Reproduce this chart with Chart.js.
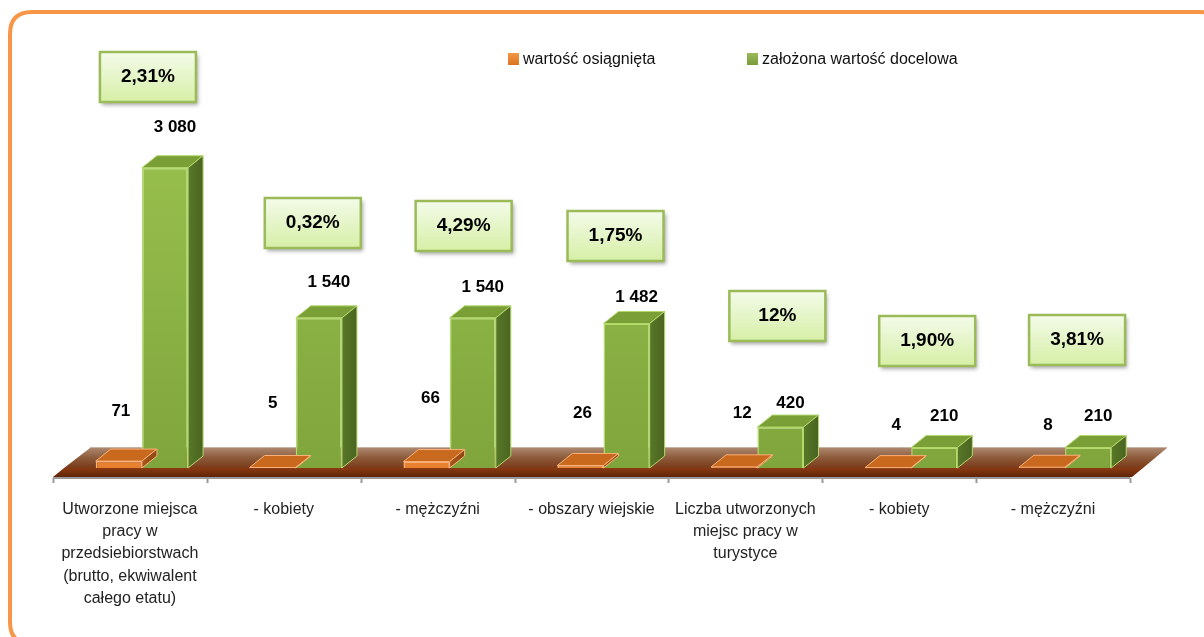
<!DOCTYPE html>
<html>
<head>
<meta charset="utf-8">
<script src="https://cdn.jsdelivr.net/npm/chart.js@4.4.1/dist/chart.umd.min.js"></script>
<style>
  html, body { margin: 0; padding: 0; background: #fff; }
  canvas { display: block; }
</style>
</head>
<body>
<canvas id="wykres" width="1204" height="637"></canvas>
<script>
// Dane wykresu
const kategorie = [
    ["Utworzone miejsca", "pracy w", "przedsiebiorstwach", "(brutto, ekwiwalent", "całego etatu)"],
    "- kobiety",
    "- mężczyźni",
    "- obszary wiejskie",
    ["Liczba utworzonych", "miejsc pracy w", "turystyce"],
    "- kobiety",
    "- mężczyźni"
];
const wartoscOsiagnieta = [71, 5, 66, 26, 12, 4, 8];
const wartoscDocelowa = [3080, 1540, 1540, 1482, 420, 210, 210];
const procenty = ["2,31%", "0,32%", "4,29%", "1,75%", "12%", "1,90%", "3,81%"];

// Rozmieszczenie etykiet (px)
const ramkaDx = [18, 29, 26, 24, 32, 28, 24];
const ramkaY = [77, 223, 226, 236, 316, 341, 340];
const zielonaDy = [-40, -36, -31, -26, -24, -31, -31];
const pomaranczowaY = [-57, -65, -70, -55, -55, -43, -43];
const pomaranczowaDx = [2, 0, 4, 2, 8, 8, 6];

const PRZESUNIECIE = 12;   // przesunięcie słupków 3D w prawo
const GL_X = 15, GL_Y = -12; // głębokość słupka

function formatLiczby(n) {
    return n.toString().replace(/\B(?=(\d{3})+(?!\d))/g, " ");
}

function wielokat(ctx, pts, fill, stroke) {
    ctx.beginPath();
    ctx.moveTo(pts[0][0], pts[0][1]);
    for (let i = 1; i < pts.length; i++) ctx.lineTo(pts[i][0], pts[i][1]);
    ctx.closePath();
    ctx.fillStyle = fill;
    ctx.fill();
    if (stroke) {
        ctx.strokeStyle = stroke;
        ctx.lineWidth = 1;
        ctx.stroke();
    }
}

function zaokraglonyProstokat(ctx, x, y, w, h, r) {
    ctx.beginPath();
    ctx.moveTo(x + r, y);
    ctx.lineTo(x + w - r, y);
    ctx.quadraticCurveTo(x + w, y, x + w, y + r);
    ctx.lineTo(x + w, y + h - r);
    ctx.quadraticCurveTo(x + w, y + h, x + w - r, y + h);
    ctx.lineTo(x + r, y + h);
    ctx.quadraticCurveTo(x, y + h, x, y + h - r);
    ctx.lineTo(x, y + r);
    ctx.quadraticCurveTo(x, y, x + r, y);
    ctx.closePath();
}

const kolory = [
    { top: "#c8691e", side: "#a9561a", edge: "#fbb27a" },
    { top: "#7b9f37", side: "#587828", edge: "#b3d86a" }
];

const wykres3D = {
    id: "wykres3D",
    beforeDraw(chart) {
        const ctx = chart.ctx;
        ctx.save();
        ctx.fillStyle = "#fff";
        ctx.fillRect(0, 0, chart.width, chart.height);
        // ramka
        ctx.strokeStyle = "#f79646";
        ctx.lineWidth = 4;
        zaokraglonyProstokat(ctx, 10, 12, 1212, 632, 22);
        ctx.stroke();
        ctx.restore();
    },
    beforeDatasetsDraw(chart) {
        const ctx = chart.ctx;
        const a = chart.chartArea;
        const y0 = a.bottom;
        // podłoga
        ctx.save();
        let g = ctx.createLinearGradient(0, y0 - 20, 0, y0);
        g.addColorStop(0, "#ab866d");
        g.addColorStop(0.5, "#8c5a3a");
        g.addColorStop(1, "#7a3a18");
        wielokat(ctx, [[a.left + 11, y0], [a.right + 13, y0], [a.right + 37, y0 - 20], [a.left + 37, y0 - 20]], g);
        ctx.strokeStyle = "#c8b2a2";
        ctx.lineWidth = 1;
        ctx.beginPath();
        ctx.moveTo(a.left + 37, y0 - 20.5);
        ctx.lineTo(a.right + 37, y0 - 20.5);
        ctx.stroke();
        let g2 = ctx.createLinearGradient(0, y0, 0, y0 + 9);
        g2.addColorStop(0, "#8b3a12");
        g2.addColorStop(1, "#5e2408");
        wielokat(ctx, [[a.left, y0 + 9], [a.right + 2, y0 + 9], [a.right + 13, y0], [a.left + 11, y0]], g2);
        // oś
        ctx.strokeStyle = "#9a9a9a";
        ctx.lineWidth = 2;
        ctx.beginPath();
        ctx.moveTo(a.left, y0 + 10);
        ctx.lineTo(a.right, y0 + 10);
        ctx.stroke();
        const szer = (a.right - a.left) / kategorie.length;
        for (let i = 0; i <= kategorie.length; i++) {
            const x = Math.round(a.left + i * szer) + 0.5;
            ctx.beginPath();
            ctx.moveTo(x, y0 + 10);
            ctx.lineTo(x, y0 + 15);
            ctx.stroke();
        }
        ctx.restore();
        ctx.save();
        ctx.translate(PRZESUNIECIE, 0);
    },
    afterDatasetDraw(chart, args) {
        const ctx = chart.ctx;
        const k = kolory[args.index];
        const meta = chart.getDatasetMeta(args.index);
        meta.data.forEach(bar => {
            const p = bar.getProps(["x", "y", "base", "width"], true);
            const l = p.x - p.width / 2, r = p.x + p.width / 2;
            const t = p.y, b = p.base;
            // góra
            wielokat(ctx, [[l, t], [l + GL_X, t + GL_Y], [r + GL_X, t + GL_Y], [r, t]], k.top, k.edge);
            // bok
            let gs = ctx.createLinearGradient(r, 0, r + GL_X, 0);
            gs.addColorStop(0, k.side);
            gs.addColorStop(1, args.index === 1 ? "#4a6420" : "#8f4712");
            wielokat(ctx, [[r, t], [r + GL_X, t + GL_Y], [r + GL_X, b + GL_Y], [r, b]], gs, k.edge);
        });
    },
    afterDatasetsDraw(chart) {
        const ctx = chart.ctx;
        ctx.restore();
        const xs = chart.scales.x;
        const m0 = chart.getDatasetMeta(0);
        const m1 = chart.getDatasetMeta(1);
        const y0 = chart.chartArea.bottom;
        ctx.save();
        ctx.fillStyle = "#000";
        ctx.textAlign = "center";
        ctx.textBaseline = "middle";
        ctx.font = "bold 17px 'Liberation Sans', Arial, sans-serif";
        m1.data.forEach((bar, i) => {
            ctx.fillText(formatLiczby(wartoscDocelowa[i]), bar.x + PRZESUNIECIE + 10, bar.y + zielonaDy[i]);
        });
        m0.data.forEach((bar, i) => {
            ctx.fillText(formatLiczby(wartoscOsiagnieta[i]), bar.x + PRZESUNIECIE + pomaranczowaDx[i], y0 + pomaranczowaY[i]);
        });
        // ramki z procentami
        procenty.forEach((txt, i) => {
            const cx = xs.getPixelForValue(i) + ramkaDx[i];
            const cy = ramkaY[i];
            const w = 96, h = 50;
            const x = cx - w / 2, y = cy - h / 2;
            ctx.save();
            ctx.shadowColor = "rgba(0,0,0,0.35)";
            ctx.shadowBlur = 4;
            ctx.shadowOffsetX = 2;
            ctx.shadowOffsetY = 3;
            let g = ctx.createLinearGradient(0, y, 0, y + h);
            g.addColorStop(0, "#f4fbea");
            g.addColorStop(1, "#d6efa6");
            ctx.fillStyle = g;
            ctx.fillRect(x, y, w, h);
            ctx.restore();
            ctx.strokeStyle = "#9bbb59";
            ctx.lineWidth = 2.5;
            ctx.strokeRect(x, y, w, h);
            ctx.fillStyle = "#000";
            ctx.font = "bold 19px 'Liberation Sans', Arial, sans-serif";
            ctx.fillText(txt, cx, cy);
        });
        // legenda
        ctx.font = "16px 'Liberation Sans', Arial, sans-serif";
        ctx.textAlign = "left";
        const legenda = [[508, "#f79646", "#d9731f"], [747, "#9bbb59", "#7a9b3a"]];
        chart.data.datasets.forEach((ds, i) => {
            const lx = legenda[i][0];
            let g = ctx.createLinearGradient(0, 53, 0, 65);
            g.addColorStop(0, legenda[i][1]);
            g.addColorStop(1, legenda[i][2]);
            ctx.fillStyle = g;
            ctx.fillRect(lx, 53, 11, 12);
            ctx.fillStyle = "#111";
            ctx.fillText(ds.label, lx + 15, 60);
        });
        ctx.restore();
    }
};

const ctx = document.getElementById("wykres").getContext("2d");
new Chart(ctx, {
    type: "bar",
    data: {
        labels: kategorie,
        datasets: [{
            label: "wartość osiągnięta",
            data: wartoscOsiagnieta,
            backgroundColor: "#e7802f",
            borderColor: "#fbb27a",
            borderWidth: 1.5
        }, {
            label: "założona wartość docelowa",
            data: wartoscDocelowa,
            backgroundColor: function(c) {
                const a = c.chart.chartArea;
                if (!a) return "#8db347";
                const g = c.chart.ctx.createLinearGradient(0, a.top, 0, a.bottom);
                g.addColorStop(0, "#a3cc55");
                g.addColorStop(1, "#7fa53c");
                return g;
            },
            borderColor: "#b6da6e",
            borderWidth: 1.5
        }]
    },
    options: {
        responsive: false,
        animation: false,
        devicePixelRatio: 1,
        categoryPercentage: 0.6,
        barPercentage: 1,
        layout: { padding: { left: 53, right: 74, top: 0, bottom: 0 } },
        plugins: {
            legend: { display: false },
            tooltip: { enabled: false }
        },
        scales: {
            y: { display: false, min: 0, max: 4800 },
            x: {
                grid: { display: false, drawTicks: false },
                border: { display: false },
                ticks: {
                    padding: 30,
                    maxRotation: 0,
                    autoSkip: false,
                    color: "#222",
                    font: { family: "'Liberation Sans', Arial, sans-serif", size: 16, lineHeight: 1.4 }
                },
                afterFit(s) { s.height = 169; }
            }
        }
    },
    plugins: [wykres3D]
});
</script>
</body>
</html>
